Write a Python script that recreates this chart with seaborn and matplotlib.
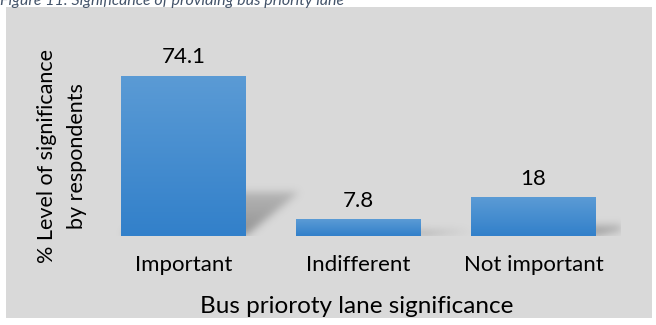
import numpy as np
import pandas as pd
import matplotlib
matplotlib.use("Agg")
import matplotlib.pyplot as plt
import seaborn as sns
from matplotlib.patches import Rectangle
from matplotlib.path import Path

# Survey results
categories = ["Important", "Indifferent", "Not important"]
values = [74.1, 7.8, 18]
value_labels = ["74.1", "7.8", "18"]
x_title = "Bus prioroty lane significance"
y_title = "% Level of significance\nby respondents"
caption = "Figure 11: Significance of providing bus priority lane"

sns.set_theme(style="white")
plt.rcParams["font.family"] = ["Lato", "DejaVu Sans"]

W, H = 656, 325
fig = plt.figure(figsize=(W / 100, H / 100), dpi=100)
fig.patch.set_facecolor("white")

# grey chart area
fig.patches.append(Rectangle((6 / W, 1 - 318 / H), 646 / W, 311 / H,
                             transform=fig.transFigure, facecolor="#d9d9d9",
                             edgecolor="none", zorder=-5))

ax = fig.add_axes([96 / W, 89 / H, 525 / W, 172.8 / H])
ax.set_facecolor("none")
ax.set_zorder(2)

df = pd.DataFrame({"category": categories, "value": values})
sns.barplot(data=df, x="category", y="value", width=0.714, color="#4a8fd4",
            saturation=1, ax=ax, zorder=3)
XLIM, YLIM = (-0.5, 2.5), (0, 80)

# vertical gradient fill on each bar
grad = np.linspace(0, 1, 256).reshape(-1, 1)
top_c = np.array([91, 155, 213]) / 255
bot_c = np.array([50, 128, 202]) / 255
grad_rgb = bot_c[None, None, :] * (1 - grad[..., None]) + top_c[None, None, :] * grad[..., None]

# soft perspective shadows behind bars
nx, ny = 525, 173
gx = np.linspace(XLIM[0], XLIM[1], nx)
gy = np.linspace(YLIM[0], YLIM[1], ny)
GX, GY = np.meshgrid(gx, gy)
pts = np.column_stack([GX.ravel(), GY.ravel()])
shadow = np.zeros(GX.shape)
dx, k = 0.30, 0.27
for p in ax.patches:
    x0, w, h = p.get_x(), p.get_width(), p.get_height()
    poly = Path([(x0, 0), (x0 + w, 0), (x0 + w + dx, k * h), (x0 + dx, k * h)])
    m = poly.contains_points(pts).reshape(GX.shape).astype(float)
    fade = np.clip(1 - 0.75 * GY / max(k * h, 1e-6), 0, 1)
    shadow = np.maximum(shadow, m * (0.35 + 0.65 * fade))


def blur(a, s):
    r = int(3 * s)
    t = np.arange(-r, r + 1)
    kern = np.exp(-t ** 2 / (2 * s ** 2))
    kern /= kern.sum()
    a = np.apply_along_axis(lambda v: np.convolve(v, kern, mode="same"), 0, a)
    a = np.apply_along_axis(lambda v: np.convolve(v, kern, mode="same"), 1, a)
    return a


shadow = blur(shadow, 4.0)
rgba = np.zeros(shadow.shape + (4,))
rgba[..., :3] = 0.42
rgba[..., 3] = np.clip(shadow * 0.65, 0, 1)
ax.imshow(rgba, extent=[XLIM[0], XLIM[1], YLIM[0], YLIM[1]], origin="lower",
          aspect="auto", zorder=1, interpolation="bilinear")

for p, lab in zip(ax.patches, value_labels):
    x0, w, h = p.get_x(), p.get_width(), p.get_height()
    im = ax.imshow(grad_rgb, extent=[x0, x0 + w, 0, h], origin="lower",
                   aspect="auto", zorder=4)
    im.set_clip_path(p)
    p.set_alpha(0)
    ax.annotate(lab, (x0 + w / 2, h), xytext=(0, 9), textcoords="offset points",
                ha="center", va="baseline", fontsize=16, color="#000000")

ax.set_xlim(*XLIM)
ax.set_ylim(*YLIM)
ax.set_yticks([])
ax.set_xlabel("")
ax.set_ylabel("")
ax.tick_params(axis="x", length=0, pad=13.5, labelsize=16, labelcolor="#000000")
for s in ax.spines.values():
    s.set_visible(False)

fig.text(357 / W, 1 - 313 / H, x_title, ha="center", va="baseline",
         fontsize=17.5, color="#000000")
fig.text(62 / W, 1 - 156 / H, y_title, ha="center", va="center", rotation=90,
         multialignment="center", fontsize=15.5, color="#000000", linespacing=1.6)
fig.text(0, 1 - 4.5 / H, caption, ha="left", va="baseline", fontsize=11.5,
         style="italic", color="#44546a")

fig.savefig("out.png", dpi=100, facecolor=fig.get_facecolor())
